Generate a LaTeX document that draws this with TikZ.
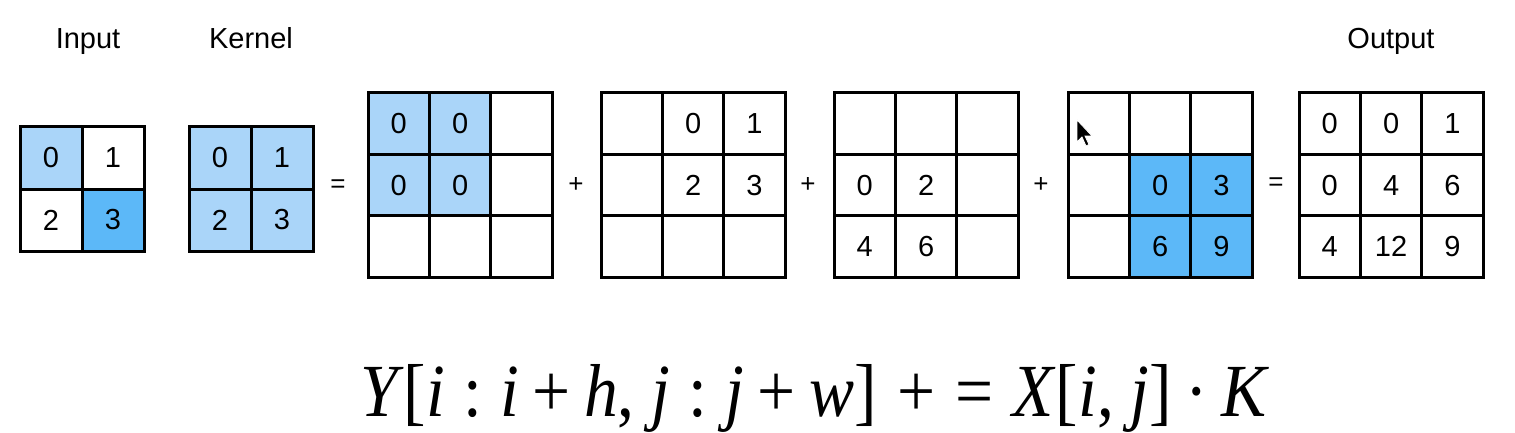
\documentclass[tikz,border=0pt]{standalone}
\usepackage{fontspec}
\setmainfont{Liberation Sans}
\newfontfamily\tms{Liberation Serif}
\definecolor{lightb}{HTML}{AAD5F9}
\definecolor{darkb}{HTML}{5CB8F8}
\newcommand{\mv}[1]{\textit{#1}}
\newcommand{\cs}{\hspace{0.27em}}
\newcommand{\ps}{\hspace{0.2em}}
\tikzset{
  cellA/.style={draw=black, line width=3pt, minimum width=62pt, minimum height=62pt, inner sep=0pt, outer sep=0pt, font=\fontsize{29}{34}\selectfont},
  cellB/.style={draw=black, line width=3pt, minimum width=61.4pt, minimum height=61.4pt, inner sep=0pt, outer sep=0pt, font=\fontsize{29}{34}\selectfont},
  lab/.style={font=\fontsize{29}{34}\selectfont, inner sep=0pt, anchor=base},
  op/.style={font=\fontsize{26}{30}\selectfont, inner sep=0pt},
}
\begin{document}
\begin{tikzpicture}[x=1pt,y=-1pt]
\useasboundingbox (0,0) rectangle (1515,433);
\fill[white] (0,0) rectangle (1515,433);
% labels
\node[lab] (linput) at (88,49) {Input};
\node[lab] (lkernel) at (251,49) {Kernel};
\node[lab] (loutput) at (1391,49) {Output};
% Input 2x2
\node[cellA, fill=lightb] (i00) at (51,158) {0};
\node[cellA] (i01) at (113,158) {1};
\node[cellA] (i10) at (51,220) {2};
\node[cellA, fill=darkb] (i11) at (113,220) {3};
% Kernel 2x2
\node[cellA, fill=lightb] (k00) at (220,158) {0};
\node[cellA, fill=lightb] (k01) at (282,158) {1};
\node[cellA, fill=lightb] (k10) at (220,220) {2};
\node[cellA, fill=lightb] (k11) at (282,220) {3};
\node[op] (eq1) at (338,186) {=};
% Grid A
\foreach \r/\c/\t/\f in {0/0/0/lightb,0/1/0/lightb,0/2//white,1/0/0/lightb,1/1/0/lightb,1/2//white,2/0//white,2/1//white,2/2//white}{
  \node[cellB, fill=\f] (a\r\c) at ({368+30.7+61.4*\c},{93+30.7+61.4*\r}) {\t};
}
\node[op] (p1) at (576,185) {+};
% Grid B
\foreach \r/\c/\t in {0/0/,0/1/0,0/2/1,1/0/,1/1/2,1/2/3,2/0/,2/1/,2/2/}{
  \node[cellB] (b\r\c) at ({601+30.7+61.4*\c},{93+30.7+61.4*\r}) {\t};
}
\node[op] (p2) at (808,185) {+};
% Grid C
\foreach \r/\c/\t in {0/0/,0/1/,0/2/,1/0/0,1/1/2,1/2/,2/0/4,2/1/6,2/2/}{
  \node[cellB] (c\r\c) at ({834+30.7+61.4*\c},{93+30.7+61.4*\r}) {\t};
}
\node[op] (p3) at (1041,185) {+};
% Grid D
\foreach \r/\c/\t/\f in {0/0//white,0/1//white,0/2//white,1/0//white,1/1/0/darkb,1/2/3/darkb,2/0//white,2/1/6/darkb,2/2/9/darkb}{
  \node[cellB, fill=\f] (d\r\c) at ({1068+30.7+61.4*\c},{93+30.7+61.4*\r}) {\t};
}
\node[op] (eq2) at (1276,184) {=};
% Output
\foreach \r/\c/\t in {0/0/0,0/1/0,0/2/1,1/0/0,1/1/4,1/2/6,2/0/4,2/1/12,2/2/9}{
  \node[cellB] (o\r\c) at ({1299+30.7+61.4*\c},{93+30.7+61.4*\r}) {\t};
}
% cursor
\fill[black, draw=white, line width=0.8pt] (1077,120) -- (1077,142) -- (1082,137) -- (1086,146) -- (1089,144.5) -- (1085,136) -- (1092,136) -- cycle;
% formula
\node[inner sep=0pt, anchor=base] (formula) at (815,416) {\scalebox{0.9}[1]{\tms\fontsize{75}{90}\selectfont \mv{Y}[\mv{i}\cs:\cs\mv{i}\ps+\ps\mv{h}, \mv{j}\cs:\cs\mv{j}\ps+\ps\mv{w}]\hspace{0.3em}+\hspace{0.3em}=\hspace{0.28em}\mv{X}[\mv{i}, \mv{j}]\hspace{0.2em}·\hspace{0.2em}\mv{K}}};
\end{tikzpicture}
\end{document}
